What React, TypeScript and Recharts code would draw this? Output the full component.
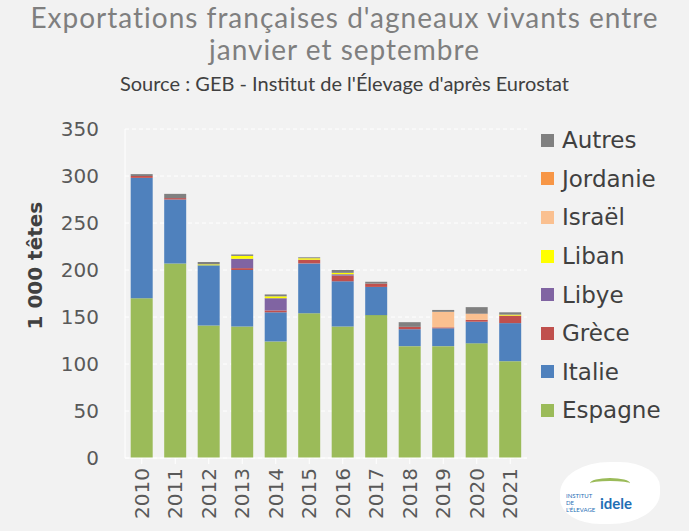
import React from 'react';
import { BarChart, Bar, XAxis, YAxis, CartesianGrid, Legend } from 'recharts';

const years = ['2010', '2011', '2012', '2013', '2014', '2015', '2016', '2017', '2018', '2019', '2020', '2021'];

// en milliers de têtes
const espagne = [170, 207, 141, 140, 124, 154, 140, 152, 119, 119, 122, 103];
const italie = [128, 68, 64, 60, 31, 53, 48, 30, 18, 19, 23, 40.5];
const grece = [2, 1.5, 0, 2, 2, 4, 6, 3.5, 2.5, 1, 2, 8];
const libye = [0, 0, 0, 10, 13, 0, 1.5, 0, 0, 0, 0, 0];
const liban = [0, 0, 1, 3, 2, 1.5, 1.5, 0, 0, 0, 0, 1];
const israel = [0, 0, 0, 0, 0, 0, 0, 0, 0, 16.5, 6, 0];
const jordanie = [0, 0, 0, 0, 0, 0, 0, 0, 0, 0, 0.5, 0];
const autres = [2, 4.5, 2.5, 1.5, 2, 1, 3, 2, 5, 2, 7, 2.5];

const yTicks = [0, 50, 100, 150, 200, 250, 300, 350];

const SERIES = [
  { key: 'Espagne', values: espagne, color: '#9bbb59' },
  { key: 'Italie', values: italie, color: '#4f81bd' },
  { key: 'Grèce', values: grece, color: '#c0504d' },
  { key: 'Libye', values: libye, color: '#8064a2' },
  { key: 'Liban', values: liban, color: '#ffff00' },
  { key: 'Israël', values: israel, color: '#fac090' },
  { key: 'Jordanie', values: jordanie, color: '#f79646' },
  { key: 'Autres', values: autres, color: '#808080' },
];

const data = years.map((year, i) => {
  const row: any = { year };
  SERIES.forEach(s => { row[s.key] = s.values[i]; });
  return row;
});

const FONT = '"DejaVu Sans", sans-serif';

const XTick = ({ x, y, payload }: any) => (
  <text
    x={x}
    y={y}
    transform={`rotate(-90, ${x}, ${y})`}
    textAnchor="end"
    dominantBaseline="central"
    fill="#595959"
    fontSize={20}
    fontFamily={FONT}
  >
    {payload.value}
  </text>
);

const LegendContent = () => (
  <div style={{ fontFamily: FONT }}>
    {[...SERIES].reverse().map(s => (
      <div key={s.key} style={{ display: 'flex', alignItems: 'center', height: 38.6 }}>
        <span style={{ width: 13, height: 13, background: s.color, display: 'inline-block', marginRight: 8 }} />
        <span style={{ fontSize: 23, color: '#404040' }}>{s.key}</span>
      </div>
    ))}
  </div>
);

export default function App() {
  return (
    <div style={{ position: 'absolute', left: 0, top: 0, width: 689, height: 531, background: '#f2f2f2', overflow: 'hidden' }}>
      <div style={{ position: 'absolute', top: 1, width: 689, textAlign: 'center', fontFamily: 'Lato, sans-serif', color: '#7f7f7f', fontSize: 28, lineHeight: '32px', letterSpacing: 1 }}>
        <div>Exportations françaises d'agneaux vivants entre</div>
        <div>janvier et septembre</div>
      </div>
      <div style={{ position: 'absolute', top: 71, width: 689, textAlign: 'center', fontFamily: 'Lato, sans-serif', color: '#404040', fontSize: 20 }}>
        Source : GEB - Institut de l'Élevage d'après Eurostat
      </div>
      <div style={{ position: 'absolute', left: 0, top: 0 }}>
        <BarChart
          width={689}
          height={531}
          data={data}
          margin={{ top: 129, right: 162, bottom: 43, left: 65 }}
          barCategoryGap="17%"
        >
          <CartesianGrid vertical={false} stroke="#ffffff" strokeDasharray="4 3" />
          <XAxis
            dataKey="year"
            height={30}
            tick={<XTick />}
            interval={0}
            axisLine={{ stroke: '#ffffff' }}
            tickLine={{ stroke: '#ffffff' }}
            tickSize={6}
            tickMargin={4}
          />
          <YAxis
            width={60}
            domain={[0, 350]}
            ticks={yTicks}
            interval={0}
            axisLine={{ stroke: '#ffffff' }}
            tickLine={false}
            tickMargin={20}
            tick={{ fill: '#595959', fontSize: 20, fontFamily: FONT }}
            label={{ value: '1 000 têtes', angle: -90, position: 'insideLeft', offset: -30, dy: 36, fill: '#404040', fontSize: 20, fontWeight: 'bold', fontFamily: FONT }}
          />
          <Legend
            layout="horizontal"
            verticalAlign="middle"
            align="center"
            content={<LegendContent />}
            wrapperStyle={{ top: 121, left: 541, width: 148 }}
          />
          {SERIES.map(s => (
            <Bar key={s.key} dataKey={s.key} stackId="a" fill={s.color} isAnimationActive={false} />
          ))}
        </BarChart>
      </div>
      <div style={{ position: 'absolute', left: 560, top: 462, width: 100, height: 62, background: '#ffffff', borderRadius: '50% 40% 50% 40%' }}>
        <div style={{ position: 'absolute', left: 40, top: 32, fontFamily: 'Lato, sans-serif', fontWeight: 'bold', fontSize: 15, color: '#1f6fb5' }}>idele</div>
        <div style={{ position: 'absolute', left: 6, top: 30, fontFamily: 'Lato, sans-serif', fontSize: 6, color: '#1f6fb5', width: 34, lineHeight: '7px' }}>INSTITUT DE L'ÉLEVAGE</div>
        <div style={{ position: 'absolute', left: 30, top: 16, width: 40, height: 8, borderTop: '3px solid #9bbb59', borderRadius: '50%' }} />
      </div>
    </div>
  );
}
